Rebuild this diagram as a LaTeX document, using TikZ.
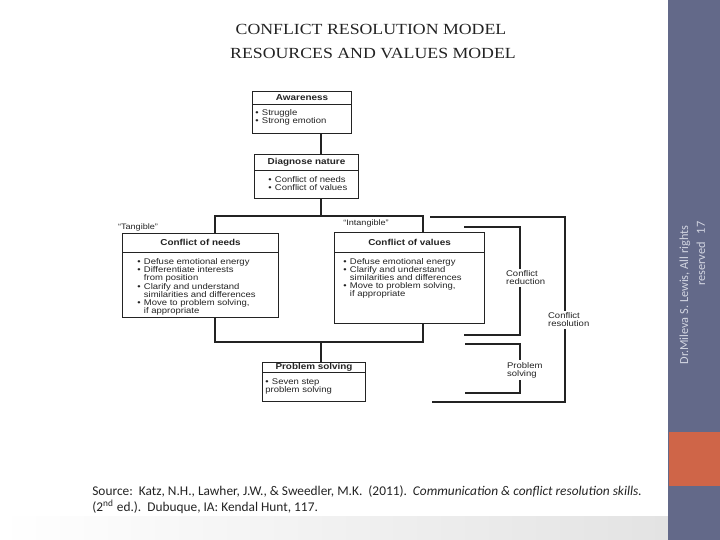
\documentclass[tikz,border=0pt]{standalone}
\usepackage{fontspec}
\setmainfont{Liberation Sans}
\newfontfamily\scanfont[FakeStretch=1.15]{Liberation Sans}
\newfontfamily\titlefont[FakeStretch=1.15]{Liberation Serif}
\newfontfamily\slidefont{Carlito}
\usepackage{xcolor}
\usetikzlibrary{positioning,calc}

\definecolor{ink}{RGB}{35,35,35}
\definecolor{slate}{RGB}{99,105,137}
\definecolor{rust}{RGB}{207,101,72}
\definecolor{footgray}{RGB}{210,213,225}

\newdimen\px \px=0.02cm
\newcommand\itm{\makebox[0.8em][l]{•}}

\begin{document}
\begin{tikzpicture}[x=\px, y=-\px,
    box/.style={draw=ink, line width=0.6pt, anchor=north west, inner sep=0pt},
    head/.style={anchor=north, inner sep=0pt, text=ink, font=\scanfont\bfseries\fontsize{4.9}{5}\selectfont},
    body/.style={anchor=north west, inner sep=0pt, align=left, text=ink, font=\scanfont\fontsize{4.7}{4.6}\selectfont},
    tag/.style={inner sep=0pt, text=ink, font=\scanfont\fontsize{4.5}{4.6}\selectfont},
    looptag/.style={anchor=west, fill=white, inner sep=1pt, align=left, text=ink, font=\scanfont\fontsize{4.7}{4.6}\selectfont},
    wire/.style={draw=ink, line width=0.6pt},
    title/.style={inner sep=0pt, text=ink, font=\titlefont\fontsize{8.8}{9}\selectfont},
    source/.style={anchor=west, inner sep=0pt, text=ink, font=\slidefont\fontsize{7.6}{8}\selectfont},
    bartext/.style={inner sep=0pt, text=footgray, font=\slidefont\fontsize{7}{8}\selectfont}]

    \useasboundingbox (0,0) rectangle (720,540);

    % Slide frame
    \shade[left color=white, right color=gray!22] (0,516) rectangle (668,540);
    \fill[slate] (668,0) rectangle (720,540);
    \fill[rust] (669,432) rectangle (720,486);
    \node[bartext, rotate=90] (foot1) at (685,295) {Dr.Mileva S. Lewis, All rights};
    \node[bartext, rotate=90] (foot2) at (701,264) {reserved};
    \node[bartext, rotate=90] (pagenum) at (701,228) {17};

    % Titles
    \node[title] (title1) at (371,29) {CONFLICT RESOLUTION MODEL};
    \node[title] (title2) at (373,54) {RESOURCES AND VALUES MODEL};

    % Awareness
    \node[box, minimum width=99\px, minimum height=42\px] (aware) at (252,91) {};
    \node[head, minimum width=99\px, minimum height=13\px] (awareH) at (aware.north) {Awareness};
    \draw[wire] (awareH.south west) -- (awareH.south east);
    \node[body] (awareB) at (255,109.5) {\itm Struggle\\\itm Strong emotion};

    % Diagnose nature
    \node[box, minimum width=104\px, minimum height=44\px] (diag) at (254,154) {};
    \node[head, minimum width=104\px, minimum height=16\px] (diagH) at (diag.north) {Diagnose nature};
    \draw[wire] (diagH.south west) -- (diagH.south east);
    \node[body] (diagB) at (268,176.5) {\itm Conflict of needs\\\itm Conflict of values};

    % Conflict of needs
    \node[tag] (tangible) at (138,227) {“Tangible”};
    \node[box, minimum width=156\px, minimum height=84\px] (needs) at (122,233) {};
    \node[head, minimum width=156\px, minimum height=19\px] (needsH) at (needs.north) {Conflict of needs};
    \draw[wire] (needsH.south west) -- (needsH.south east);
    \node[body] (needsB) at (137,258.5) {\itm Defuse emotional energy\\
        \itm Differentiate interests\\\hspace*{0.8em}from position\\
        \itm Clarify and understand\\\hspace*{0.8em}similarities and differences\\
        \itm Move to problem solving,\\\hspace*{0.8em}if appropriate};

    % Conflict of values
    \node[tag] (intangible) at (366,223) {“Intangible”};
    \node[box, minimum width=150\px, minimum height=91\px] (values) at (334,232) {};
    \node[head, minimum width=150\px, minimum height=20\px] (valuesH) at (values.north) {Conflict of values};
    \draw[wire] (valuesH.south west) -- (valuesH.south east);
    \node[body] (valuesB) at (343,258) {\itm Defuse emotional energy\\
        \itm Clarify and understand\\\hspace*{0.8em}similarities and differences\\
        \itm Move to problem solving,\\\hspace*{0.8em}if appropriate};

    % Problem solving
    \node[box, minimum width=103\px, minimum height=39\px] (solve) at (262,362) {};
    \node[head, minimum width=103\px, minimum height=10\px] (solveH) at (solve.north) {Problem solving};
    \draw[wire] (solveH.south west) -- (solveH.south east);
    \node[body] (solveB) at (265,378.5) {\itm Seven step\\problem solving};

    % Tree connectors
    \coordinate (topjoin) at (321,216);
    \coordinate (lowjoin) at (321,342);
    \coordinate (needsdrop) at (215,216);
    \coordinate (valuesdrop) at (423,216);
    \draw[wire] (aware.south -| topjoin) -- (diag.north -| topjoin);
    \draw[wire] (diag.south -| topjoin) -- (topjoin);
    \draw[wire] (needs.north -| needsdrop) -- (needsdrop) -- (valuesdrop) -- (values.north -| valuesdrop);
    \draw[wire] (needs.south -| needsdrop) -- (needsdrop |- lowjoin) -- (valuesdrop |- lowjoin) -- (values.south -| valuesdrop);
    \draw[wire] (lowjoin) -- (solve.north -| lowjoin);

    % Brackets on the right
    \coordinate (redA) at (464,227);
    \coordinate (redB) at (464,335);
    \coordinate (redX) at (520,0);
    \draw[wire] (redA) -- (redA -| redX) -- (redB -| redX) -- (redB);
    \node[looptag] (redlab) at (504,278) {Conflict\\reduction};

    \coordinate (resA) at (430,217);
    \coordinate (resB) at (432,402);
    \coordinate (resX) at (565,0);
    \draw[wire] (resA) -- (resA -| resX) -- (resB -| resX) -- (resB);
    \node[looptag] (reslab) at (546,320) {Conflict\\resolution};

    \coordinate (psA) at (465,344);
    \coordinate (psB) at (465,393);
    \coordinate (psX) at (520,0);
    \draw[wire] (psA) -- (psA -| psX) -- (psB -| psX) -- (psB);
    \node[looptag] (pslab) at (505,370) {Problem\\solving};

    % Source
    \node[source] (src1) at (92,492) {Source:\ \ Katz, N.H., Lawher, J.W., \& Sweedler, M.K.\ \ (2011).\ \ \textit{Communication \& conflict resolution skills.}};
    \node[source] (src2) at (92,507) {(2\textsuperscript{nd} ed.).\ \ Dubuque, IA: Kendal Hunt, 117.};
\end{tikzpicture}
\end{document}
